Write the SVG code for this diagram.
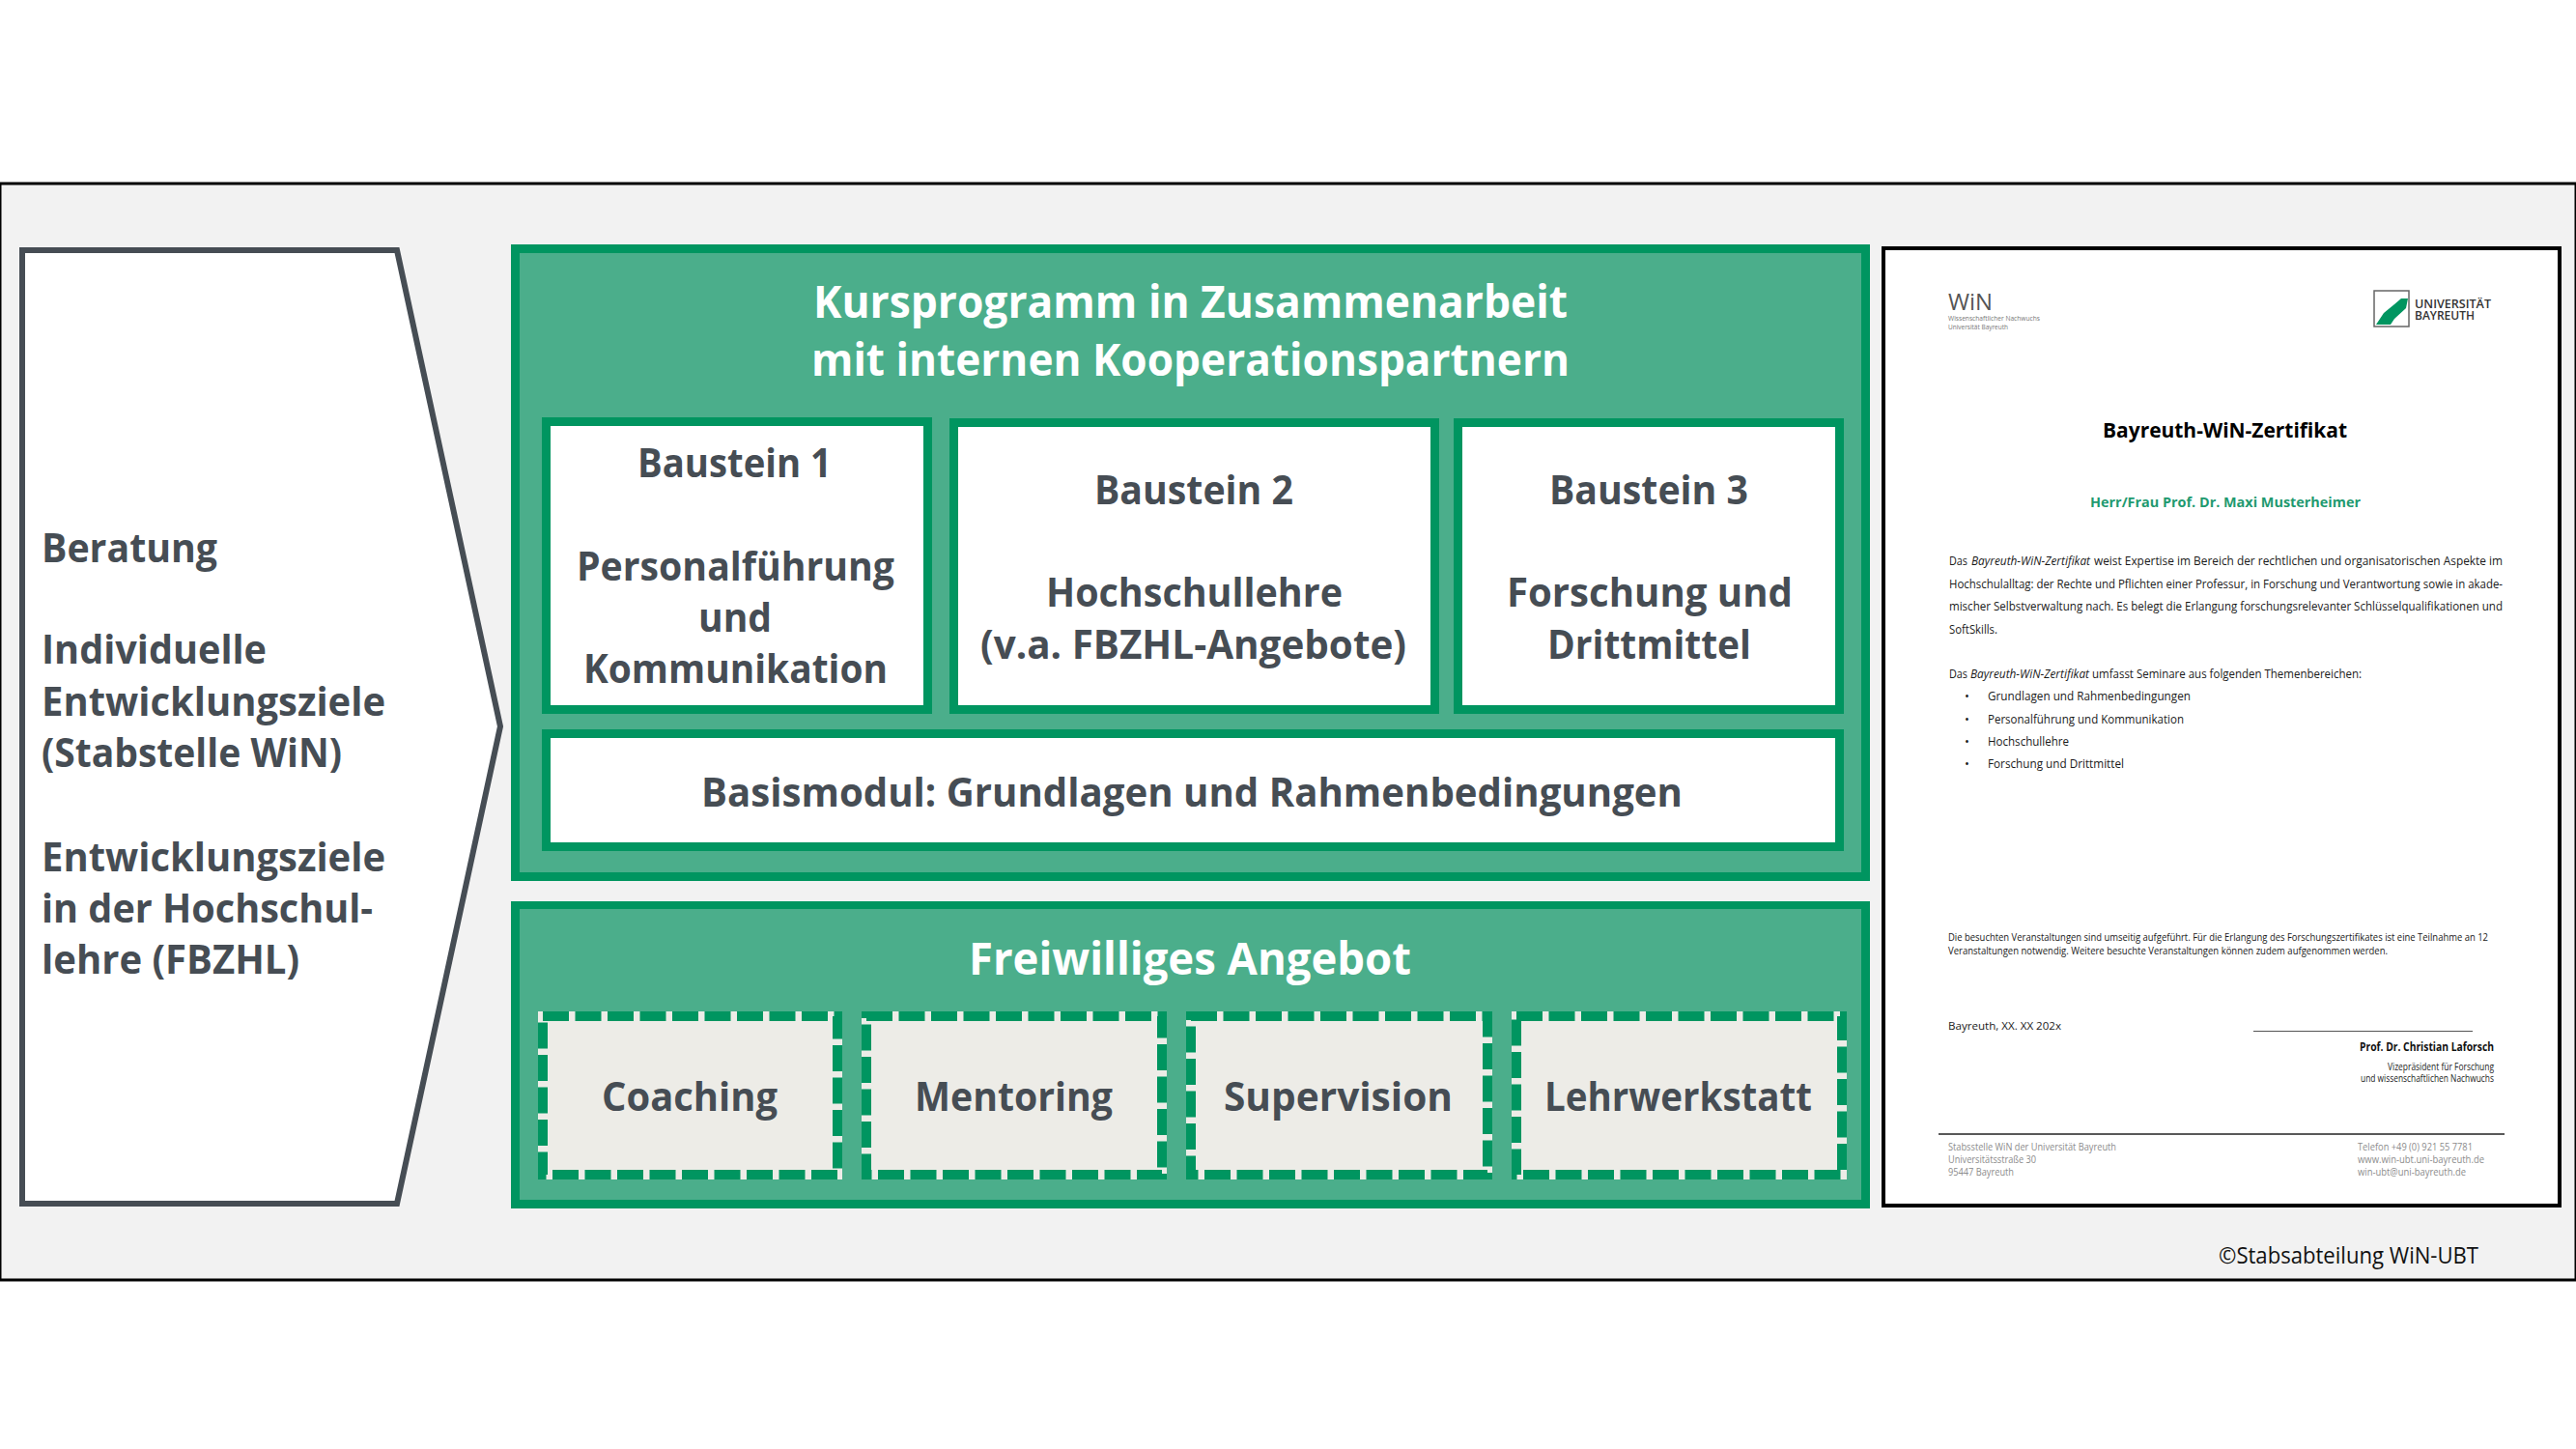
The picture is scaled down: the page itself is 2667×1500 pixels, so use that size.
<svg xmlns="http://www.w3.org/2000/svg" width="2667" height="1500" viewBox="0 0 2667 1500">
<style>
text{font-family:"Open Sans","Liberation Sans",sans-serif;white-space:pre}
.h{font-size:46px;font-weight:700;fill:#fff}
.m{font-size:41px;font-weight:700;fill:#464d54}
.g{fill:#009560}
.l{fill:#4bae8b}
.w{fill:#fff}
.dbg{fill:#edece7;stroke:#edece7;stroke-width:10}
.dsh{fill:none;stroke:#009560;stroke-width:10;stroke-dasharray:27 6.5}
.d{font-size:13px;fill:#1a1a1a}
.i{font-style:italic}
.s{font-size:11.5px;fill:#1a1a1a}
.t{font-size:10.5px;fill:#1a1a1a}
.f{font-size:11px;fill:#8c8c8c}
</style>
<rect width="2667" height="1500" fill="#fff"/>
<rect x="0" y="190" width="2667" height="1135" fill="#f2f2f2" stroke="#000" stroke-width="3"/>

<g id="arrow">
<polygon points="23,259 411,259 518,752 411,1246 23,1246" fill="#fff" stroke="#464d54" stroke-width="6"/>
<text class="m" x="43" y="582" textLength="182" lengthAdjust="spacingAndGlyphs">Beratung</text>
<text class="m" x="43" y="687" textLength="233" lengthAdjust="spacingAndGlyphs">Individuelle</text>
<text class="m" x="43" y="741" textLength="356" lengthAdjust="spacingAndGlyphs">Entwicklungsziele</text>
<text class="m" x="43" y="794" textLength="311" lengthAdjust="spacingAndGlyphs">(Stabstelle WiN)</text>
<text class="m" x="43" y="902" textLength="356" lengthAdjust="spacingAndGlyphs">Entwicklungsziele</text>
<text class="m" x="43" y="955" textLength="343" lengthAdjust="spacingAndGlyphs">in der Hochschul-</text>
<text class="m" x="43" y="1008" textLength="267" lengthAdjust="spacingAndGlyphs">lehre (FBZHL)</text>
</g>

<g id="kursprogramm">
<rect class="g" x="529" y="253" width="1407" height="659"/>
<rect class="l" x="538" y="262" width="1389" height="641"/>
<text class="h" x="842" y="329" textLength="781" lengthAdjust="spacingAndGlyphs">Kursprogramm in Zusammenarbeit</text>
<text class="h" x="840" y="389" textLength="785" lengthAdjust="spacingAndGlyphs">mit internen Kooperationspartnern</text>
</g>

<g id="baustein1">
<rect class="g" x="561" y="432" width="404" height="307"/>
<rect class="w" x="570" y="441" width="386" height="289"/>
<text class="m" x="660" y="494" textLength="201" lengthAdjust="spacingAndGlyphs">Baustein 1</text>
<text class="m" x="597" y="601" textLength="329" lengthAdjust="spacingAndGlyphs">Personalführung</text>
<text class="m" x="723" y="654" textLength="76" lengthAdjust="spacingAndGlyphs">und</text>
<text class="m" x="604" y="707" textLength="315" lengthAdjust="spacingAndGlyphs">Kommunikation</text>
</g>
<g id="baustein2">
<rect class="g" x="983" y="433" width="507" height="306"/>
<rect class="w" x="992" y="442" width="489" height="288"/>
<text class="m" x="1133" y="522" textLength="206" lengthAdjust="spacingAndGlyphs">Baustein 2</text>
<text class="m" x="1083" y="628" textLength="307" lengthAdjust="spacingAndGlyphs">Hochschullehre</text>
<text class="m" x="1015" y="682" textLength="441" lengthAdjust="spacingAndGlyphs">(v.a. FBZHL-Angebote)</text>
</g>
<g id="baustein3">
<rect class="g" x="1505" y="433" width="404" height="306"/>
<rect class="w" x="1514" y="442" width="386" height="288"/>
<text class="m" x="1604" y="522" textLength="206" lengthAdjust="spacingAndGlyphs">Baustein 3</text>
<text class="m" x="1560" y="628" textLength="296" lengthAdjust="spacingAndGlyphs">Forschung und</text>
<text class="m" x="1602" y="682" textLength="211" lengthAdjust="spacingAndGlyphs">Drittmittel</text>
</g>
<g id="basismodul">
<rect class="g" x="561" y="755" width="1348" height="126"/>
<rect class="w" x="570" y="764" width="1330" height="108"/>
<text class="m" x="726" y="835" textLength="1016" lengthAdjust="spacingAndGlyphs">Basismodul: Grundlagen und Rahmenbedingungen</text>
</g>

<g id="freiwillig">
<rect class="g" x="529" y="933" width="1407" height="318"/>
<rect class="l" x="538" y="941" width="1389" height="301"/>
<text class="h" x="1003" y="1009" textLength="458" lengthAdjust="spacingAndGlyphs">Freiwilliges Angebot</text>
</g>
<g id="coaching">
<rect class="dbg" x="562" y="1052" width="305" height="164"/>
<rect class="dsh" x="562" y="1052" width="305" height="164"/>
<text class="m" x="623" y="1150" textLength="182" lengthAdjust="spacingAndGlyphs">Coaching</text>
</g>
<g id="mentoring">
<rect class="dbg" x="897" y="1052" width="306" height="164"/>
<rect class="dsh" x="897" y="1052" width="306" height="164"/>
<text class="m" x="947" y="1150" textLength="205" lengthAdjust="spacingAndGlyphs">Mentoring</text>
</g>
<g id="supervision">
<rect class="dbg" x="1233" y="1052" width="307" height="164"/>
<rect class="dsh" x="1233" y="1052" width="307" height="164"/>
<text class="m" x="1267" y="1150" textLength="237" lengthAdjust="spacingAndGlyphs">Supervision</text>
</g>
<g id="lehrwerkstatt">
<rect class="dbg" x="1570" y="1052" width="337" height="164"/>
<rect class="dsh" x="1570" y="1052" width="337" height="164"/>
<text class="m" x="1599" y="1150" textLength="277" lengthAdjust="spacingAndGlyphs">Lehrwerkstatt</text>
</g>

<g id="zertifikat">
<rect x="1950" y="257" width="700" height="991" fill="#fff" stroke="#000" stroke-width="4"/>
<text x="2017" y="321" font-size="24" fill="#555" textLength="46" lengthAdjust="spacingAndGlyphs">WiN</text>
<text x="2017" y="332" font-size="7" fill="#777" textLength="95" lengthAdjust="spacingAndGlyphs">Wissenschaftlicher Nachwuchs</text>
<text x="2017" y="341" font-size="7" fill="#777" textLength="62" lengthAdjust="spacingAndGlyphs">Universität Bayreuth</text>
<rect x="2458" y="301" width="36" height="37" fill="#fff" stroke="#666" stroke-width="1.5"/>
<polygon points="2460,336 2468,324 2479,315 2486,309 2493,309 2491,319 2479,330 2475,336" fill="#009560"/>
<text x="2500" y="319" font-size="12" font-weight="600" fill="#333" textLength="79" lengthAdjust="spacingAndGlyphs">UNIVERSITÄT</text>
<text x="2500" y="331" font-size="12" font-weight="600" fill="#333" textLength="62" lengthAdjust="spacingAndGlyphs">BAYREUTH</text>
<text x="2177" y="453" font-size="22" font-weight="700" fill="#000" textLength="253" lengthAdjust="spacingAndGlyphs">Bayreuth-WiN-Zertifikat</text>
<text x="2164" y="525" font-size="15" font-weight="700" fill="#1f9a70" textLength="280" lengthAdjust="spacingAndGlyphs">Herr/Frau Prof. Dr. Maxi Musterheimer</text>
<text class="d" x="2018" y="585" textLength="19" lengthAdjust="spacingAndGlyphs">Das</text>
<text class="d i" x="2041" y="585" textLength="123" lengthAdjust="spacingAndGlyphs">Bayreuth-WiN-Zertifikat</text>
<text class="d" x="2168" y="585" textLength="423" lengthAdjust="spacingAndGlyphs">weist Expertise im Bereich der rechtlichen und organisatorischen Aspekte im</text>
<text class="d" x="2018" y="609" textLength="573" lengthAdjust="spacingAndGlyphs">Hochschulalltag: der Rechte und Pflichten einer Professur, in Forschung und Verantwortung sowie in akade-</text>
<text class="d" x="2018" y="632" textLength="573" lengthAdjust="spacingAndGlyphs">mischer Selbstverwaltung nach. Es belegt die Erlangung forschungsrelevanter Schlüsselqualifikationen und</text>
<text class="d" x="2018" y="656" textLength="50" lengthAdjust="spacingAndGlyphs">SoftSkills.</text>
<text class="d" x="2018" y="702" textLength="19" lengthAdjust="spacingAndGlyphs">Das</text>
<text class="d i" x="2040" y="702" textLength="123" lengthAdjust="spacingAndGlyphs">Bayreuth-WiN-Zertifikat</text>
<text class="d" x="2166" y="702" textLength="279" lengthAdjust="spacingAndGlyphs">umfasst Seminare aus folgenden Themenbereichen:</text>
<text class="d" x="2034" y="725">•</text>
<text class="d" x="2034" y="749">•</text>
<text class="d" x="2034" y="772">•</text>
<text class="d" x="2034" y="795">•</text>
<text class="d" x="2058" y="725" textLength="210" lengthAdjust="spacingAndGlyphs">Grundlagen und Rahmenbedingungen</text>
<text class="d" x="2058" y="749" textLength="203" lengthAdjust="spacingAndGlyphs">Personalführung und Kommunikation</text>
<text class="d" x="2058" y="772" textLength="84" lengthAdjust="spacingAndGlyphs">Hochschullehre</text>
<text class="d" x="2058" y="795" textLength="141" lengthAdjust="spacingAndGlyphs">Forschung und Drittmittel</text>
<text class="t" x="2017" y="974" textLength="559" lengthAdjust="spacingAndGlyphs">Die besuchten Veranstaltungen sind umseitig aufgeführt. Für die Erlangung des Forschungszertifikates ist eine Teilnahme an 12</text>
<text class="t" x="2017" y="988" textLength="455" lengthAdjust="spacingAndGlyphs">Veranstaltungen notwendig. Weitere besuchte Veranstaltungen können zudem aufgenommen werden.</text>
<text class="s" x="2017" y="1066" textLength="117" lengthAdjust="spacingAndGlyphs">Bayreuth, XX. XX 202x</text>
<line x1="2333" y1="1067.5" x2="2560" y2="1067.5" stroke="#555" stroke-width="1"/>
<text x="2443" y="1088" font-size="12" font-weight="700" fill="#111" textLength="139" lengthAdjust="spacingAndGlyphs">Prof. Dr. Christian Laforsch</text>
<text x="2472" y="1108" font-size="10" fill="#222" textLength="110" lengthAdjust="spacingAndGlyphs">Vizepräsident für Forschung</text>
<text x="2444" y="1120" font-size="10" fill="#222" textLength="138" lengthAdjust="spacingAndGlyphs">und wissenschaftlichen Nachwuchs</text>
<line x1="2007" y1="1174" x2="2593" y2="1174" stroke="#222" stroke-width="1.5"/>
<text class="f" x="2017" y="1191" textLength="174" lengthAdjust="spacingAndGlyphs">Stabsstelle WiN der Universität Bayreuth</text>
<text class="f" x="2017" y="1204" textLength="91" lengthAdjust="spacingAndGlyphs">Universitätsstraße 30</text>
<text class="f" x="2017" y="1217" textLength="68" lengthAdjust="spacingAndGlyphs">95447 Bayreuth</text>
<text class="f" x="2441" y="1191" textLength="119" lengthAdjust="spacingAndGlyphs">Telefon +49 (0) 921 55 7781</text>
<text class="f" x="2441" y="1204" textLength="131" lengthAdjust="spacingAndGlyphs">www.win-ubt.uni-bayreuth.de</text>
<text class="f" x="2441" y="1217" textLength="112" lengthAdjust="spacingAndGlyphs">win-ubt@uni-bayreuth.de</text>
</g>
<text id="copyright" x="2297" y="1308" font-size="24" fill="#111" textLength="269" lengthAdjust="spacingAndGlyphs">©Stabsabteilung WiN-UBT</text>
</svg>
